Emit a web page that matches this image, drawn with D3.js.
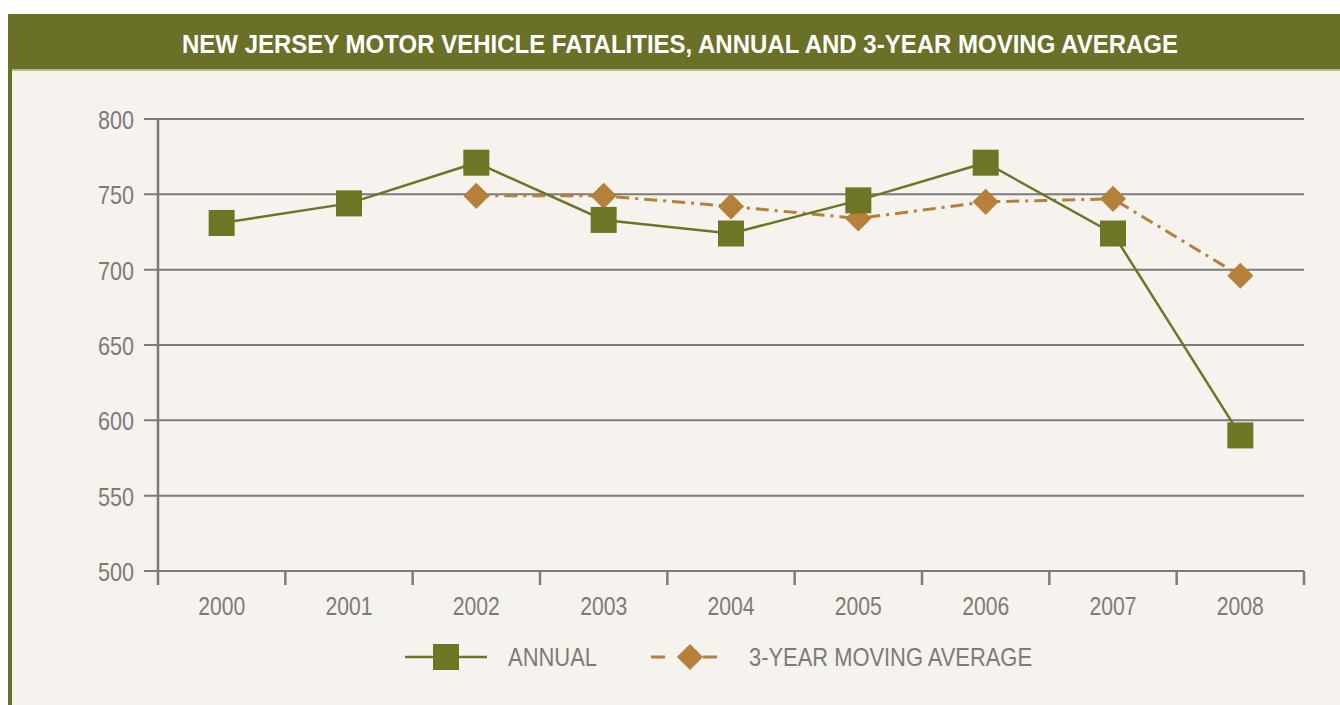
<!DOCTYPE html>
<html lang="en">
	<head>
		<meta charset="utf-8">
		<title>NJ Motor Vehicle Fatalities</title>
		<script type="text/javascript" src="https://cdn.jsdelivr.net/npm/d3@7"></script>
		<style type="text/css">
		body { margin: 0; background: #ffffff; }
		text { font-family: "Liberation Sans Narrow", "Arial Narrow", "Liberation Sans", sans-serif; }
		</style>
	</head>
	<body>
		<script type="text/javascript">

		//Width and height
		var w = 1340;
		var h = 705;

		var years = ["2000", "2001", "2002", "2003", "2004", "2005", "2006", "2007", "2008"];
		var annual = [731, 744, 771, 733, 724, 746, 771, 724, 590];
		// moving average starts at 2002
		var movingAvg = [null, null, 749, 749, 742, 734, 745, 747, 696];
		var yTicks = [500, 550, 600, 650, 700, 750, 800];

		var green = "#6c7625";
		var orange = "#b58039";
		var gray = "#7d7b78";

		var svg = d3.select("body")
					.append("svg")
					.attr("width", w)
					.attr("height", h);

		//panel + frame
		svg.append("rect").attr("x", 8).attr("y", 14).attr("width", w - 8).attr("height", h - 14).attr("fill", "#6b7028");
		svg.append("rect").attr("x", 12).attr("y", 71).attr("width", w - 12).attr("height", h - 71).attr("fill", "#f6f2ee");
		svg.append("rect").attr("x", 12).attr("y", 69).attr("width", w - 12).attr("height", 2).attr("fill", "#b9b98c");

		svg.append("text")
			.attr("x", 680)
			.attr("y", 53)
			.attr("text-anchor", "middle")
			.attr("textLength", 996)
			.attr("lengthAdjust", "spacingAndGlyphs")
			.style("font-size", "26px")
			.style("font-weight", "bold")
			.style("fill", "#ffffff")
			.text("NEW JERSEY MOTOR VEHICLE FATALITIES, ANNUAL AND 3-YEAR MOVING AVERAGE");

		var x = d3.scaleBand()
				.domain(years)
				.range([158, 1304])
				.padding(0);

		var y = d3.scaleLinear()
				.domain([500, 800])
				.range([571, 119]);

		//gridlines
		svg.selectAll("line.grid")
			.data(yTicks)
			.enter()
			.append("line")
			.attr("class", "grid")
			.attr("x1", 144)
			.attr("x2", 1304)
			.attr("y1", function(d) { return y(d); })
			.attr("y2", function(d) { return y(d); })
			.style("stroke", gray)
			.style("stroke-width", 2);

		//y axis line
		svg.append("line")
			.attr("x1", 158).attr("x2", 158)
			.attr("y1", y(800)).attr("y2", 585)
			.style("stroke", gray)
			.style("stroke-width", 2.5);

		//x ticks at band boundaries
		var bounds = years.map(function(d) { return x(d); }).concat([x.range()[1]]);
		svg.selectAll("line.xtick")
			.data(bounds.slice(1))
			.enter()
			.append("line")
			.attr("class", "xtick")
			.attr("x1", function(d) { return d; })
			.attr("x2", function(d) { return d; })
			.attr("y1", y(500))
			.attr("y2", 585)
			.style("stroke", gray)
			.style("stroke-width", 2.5);

		svg.selectAll("text.ylab")
			.data(yTicks)
			.enter()
			.append("text")
			.attr("class", "ylab")
			.attr("x", 134)
			.attr("y", function(d) { return y(d) + 10; })
			.attr("text-anchor", "end")
			.attr("textLength", 36)
			.attr("lengthAdjust", "spacingAndGlyphs")
			.style("font-size", "25px")
			.style("fill", gray)
			.text(function(d) { return d; });

		svg.selectAll("text.xlab")
			.data(years)
			.enter()
			.append("text")
			.attr("class", "xlab")
			.attr("x", function(d) { return x(d) + x.bandwidth() / 2; })
			.attr("y", 615)
			.attr("text-anchor", "middle")
			.attr("textLength", 47)
			.attr("lengthAdjust", "spacingAndGlyphs")
			.style("font-size", "26px")
			.style("fill", gray)
			.text(function(d) { return d; });

		var cx = function(d, i) { return x(years[i]) + x.bandwidth() / 2; };

		//moving average line
		var maLine = d3.line()
			.defined(function(d) { return d != null; })
			.x(cx)
			.y(function(d) { return y(d); });

		svg.append("path")
			.datum(movingAvg)
			.attr("d", maLine)
			.style("fill", "none")
			.style("stroke", orange)
			.style("stroke-width", 3)
			.style("stroke-dasharray", "13,6,3,6");

		//annual line
		var annLine = d3.line()
			.x(cx)
			.y(function(d) { return y(d); });

		svg.append("path")
			.datum(annual)
			.attr("d", annLine)
			.style("fill", "none")
			.style("stroke", green)
			.style("stroke-width", 2.5);

		var diamond = d3.symbol().type(d3.symbolSquare).size(340);

		svg.selectAll("path.ma")
			.data(movingAvg.map(function(d, i) { return {v: d, i: i}; }).filter(function(d) { return d.v != null; }))
			.enter()
			.append("path")
			.attr("class", "ma")
			.attr("d", diamond)
			.attr("transform", function(d) { return "translate(" + cx(d.v, d.i) + "," + y(d.v) + ") rotate(45)"; })
			.style("fill", orange);

		svg.selectAll("rect.ann")
			.data(annual)
			.enter()
			.append("rect")
			.attr("class", "ann")
			.attr("x", function(d, i) { return cx(d, i) - 13; })
			.attr("y", function(d) { return y(d) - 13; })
			.attr("width", 26)
			.attr("height", 26)
			.style("fill", green);

		//legend
		var lg = svg.append("g");
		lg.append("line").attr("x1", 405).attr("x2", 487).attr("y1", 657).attr("y2", 657)
			.style("stroke", green).style("stroke-width", 2.5);
		lg.append("rect").attr("x", 433).attr("y", 644).attr("width", 26).attr("height", 26).style("fill", green);
		lg.append("text").attr("x", 508).attr("y", 666)
			.attr("textLength", 89).attr("lengthAdjust", "spacingAndGlyphs")
			.style("font-size", "26px").style("fill", gray).text("ANNUAL");

		lg.append("line").attr("x1", 651).attr("x2", 730).attr("y1", 657).attr("y2", 657)
			.style("stroke", orange).style("stroke-width", 3).style("stroke-dasharray", "14,38,14");
		lg.append("path").attr("d", diamond).attr("transform", "translate(690,657) rotate(45)").style("fill", orange);
		lg.append("text").attr("x", 749).attr("y", 666)
			.attr("textLength", 283).attr("lengthAdjust", "spacingAndGlyphs")
			.style("font-size", "26px").style("fill", gray).text("3-YEAR MOVING AVERAGE");

		</script>
	</body>
</html>
